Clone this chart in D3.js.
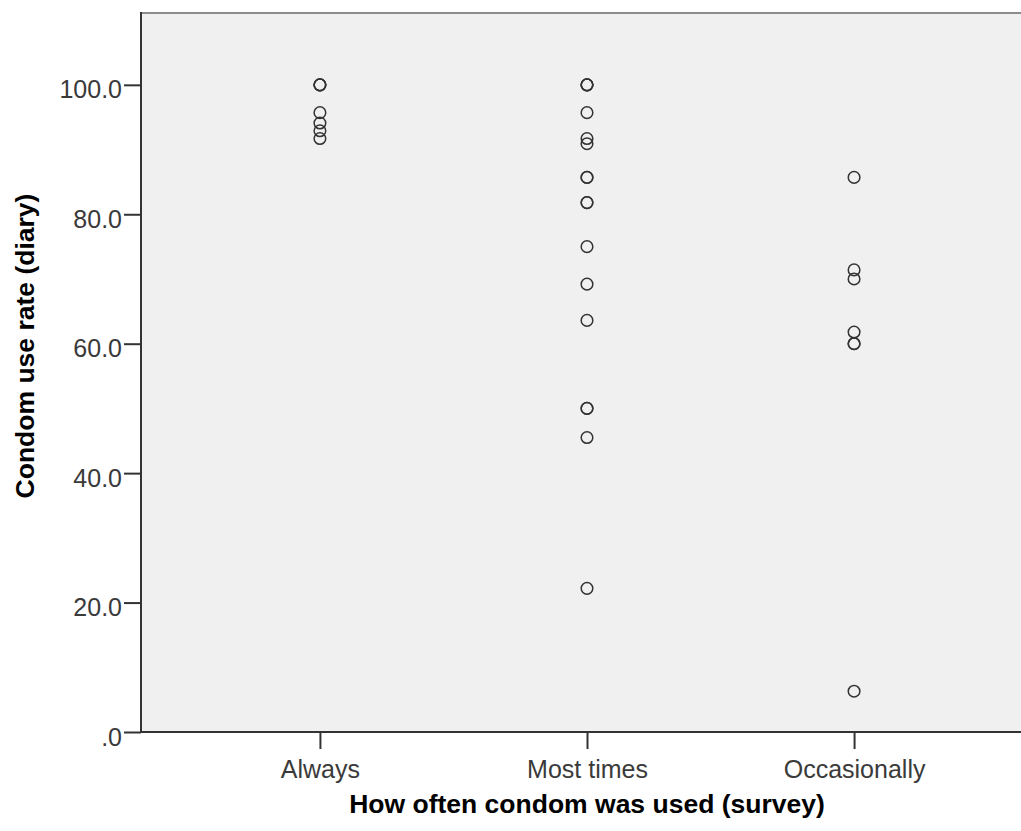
<!DOCTYPE html>
<html>
<head>
<meta charset="utf-8">
<script src="https://cdn.jsdelivr.net/npm/d3@7"></script>
<style>
  body { margin: 0; background: #fff; }
  svg { display: block; }
</style>
</head>
<body>
<svg id="chart" width="1021" height="831"></svg>
<script>
// ---- data ----
const categories = ["Always", "Most times", "Occasionally"];
const alwaysValues = [100, 100, 100, 95.7, 94.1, 92.9, 91.7];
const mostTimesValues = [100, 100, 100, 95.7, 91.7, 90.9, 85.7, 85.7, 81.8, 81.8, 75.0, 69.2, 63.6, 50, 50, 45.5, 22.2];
const occasionallyValues = [85.7, 71.4, 70.0, 61.8, 60.0, 60.0, 6.3];
const yTickValues = [0, 20, 40, 60, 80, 100];
const yTickLabels = [".0", "20.0", "40.0", "60.0", "80.0", "100.0"];
const xTitle = "How often condom was used (survey)";
const yTitle = "Condom use rate (diary)";

const seriesValues = [alwaysValues, mostTimesValues, occasionallyValues];
const points = [];
categories.forEach((c, i) => seriesValues[i].forEach(v => points.push({ cat: c, value: v })));

// ---- layout ----
const plot = { left: 141, top: 13, right: 1033, bottom: 732 };
const svg = d3.select("#chart");

const x = d3.scalePoint().domain(categories).range([plot.left, plot.right]).padding(0.67);
const y = d3.scaleLinear().domain([0, 111.1]).range([plot.bottom, plot.top]);

// background
svg.append("rect")
  .attr("x", plot.left).attr("y", plot.top)
  .attr("width", plot.right - plot.left).attr("height", plot.bottom - plot.top)
  .attr("fill", "#f0f0f0");

// top border
svg.append("line")
  .attr("x1", plot.left).attr("x2", plot.right)
  .attr("y1", plot.top).attr("y2", plot.top)
  .attr("stroke", "#8c8c8c").attr("stroke-width", 2);

// points
svg.append("g").selectAll("circle").data(points).join("circle")
  .attr("cx", d => x(d.cat))
  .attr("cy", d => y(d.value))
  .attr("r", 5.8)
  .attr("fill", "none")
  .attr("stroke", "#333")
  .attr("stroke-width", 1.5);

// y axis
const yAxis = d3.axisLeft(y).tickValues(yTickValues)
  .tickFormat((d, i) => yTickLabels[i]).tickSize(17).tickPadding(2);
const gy = svg.append("g").attr("transform", `translate(${plot.left},0)`).call(yAxis);
gy.select(".domain").remove();
gy.selectAll(".tick line").attr("stroke", "#333").attr("stroke-width", 2);
gy.selectAll(".tick text")
  .attr("fill", "#3a3a3a")
  .attr("font-family", "Liberation Sans, Arial, sans-serif")
  .attr("font-size", 25)
  .attr("dy", "13px");

// x axis
const xAxis = d3.axisBottom(x).tickSize(17).tickPadding(10);
const gx = svg.append("g").attr("transform", `translate(0,${plot.bottom})`).call(xAxis);
gx.select(".domain").remove();
gx.selectAll(".tick line").attr("stroke", "#333").attr("stroke-width", 2);
gx.selectAll(".tick text")
  .attr("fill", "#3a3a3a")
  .attr("font-family", "Liberation Sans, Arial, sans-serif")
  .attr("font-size", 25)
  .attr("y", 0)
  .attr("dy", "46px");

// axis lines
svg.append("line")
  .attr("x1", plot.left).attr("x2", plot.left)
  .attr("y1", plot.top - 1).attr("y2", plot.bottom + 1)
  .attr("stroke", "#333").attr("stroke-width", 2);
svg.append("line")
  .attr("x1", plot.left).attr("x2", plot.right)
  .attr("y1", plot.bottom).attr("y2", plot.bottom)
  .attr("stroke", "#333").attr("stroke-width", 2);

// titles
svg.append("text")
  .attr("x", x("Most times")).attr("y", 813)
  .attr("text-anchor", "middle")
  .attr("font-family", "Liberation Sans, Arial, sans-serif")
  .attr("font-weight", "bold")
  .attr("font-size", 26.5)
  .attr("fill", "#000")
  .text(xTitle);

svg.append("text")
  .attr("transform", "translate(34,346) rotate(-90)")
  .attr("text-anchor", "middle")
  .attr("font-family", "Liberation Sans, Arial, sans-serif")
  .attr("font-weight", "bold")
  .attr("font-size", 26.5)
  .attr("fill", "#000")
  .text(yTitle);
</script>
</body>
</html>
